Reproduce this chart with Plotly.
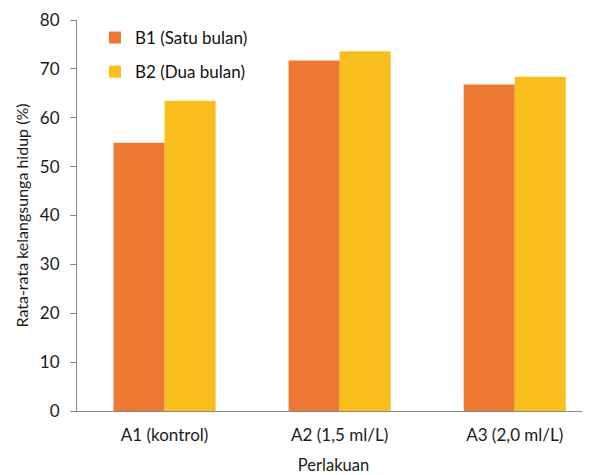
import plotly.graph_objects as go

categories = ["A1 (kontrol)", "A2 (1,5 ml/L)", "A3 (2,0 ml/L)"]
b1_values = [54.9, 71.7, 66.8]
b2_values = [63.5, 73.6, 68.4]
series_names = ["B1 (Satu bulan)", "B2 (Dua bulan)"]
y_ticks = [0, 10, 20, 30, 40, 50, 60, 70, 80]

FONT = "Lato"

fig = go.Figure()
fig.add_trace(go.Bar(x=categories, y=b1_values, name=series_names[0],
                     marker=dict(color="#EC7833", line=dict(width=0)),
                     legendgroup="b1"))
fig.add_trace(go.Bar(x=categories, y=b2_values, name=series_names[1],
                     marker=dict(color="#F7BE1C", line=dict(width=0)),
                     legendgroup="b2"))

fig.update_layout(
    width=582, height=467,
    margin=dict(l=69, r=0, t=12, b=64, autoexpand=False),
    plot_bgcolor="white", paper_bgcolor="white",
    barmode="group", bargap=0.417, bargroupgap=0,
    font=dict(family=FONT, size=16, color="#1a1a1a"),
    legend=dict(x=0.035, y=1.0, xanchor="left", yanchor="top",
                font=dict(size=17, color="#111111"),
                itemwidth=30,
                traceorder="grouped", tracegroupgap=9,
                bgcolor="rgba(0,0,0,0)"),
    xaxis=dict(range=[-0.5, 2.43], showline=True, linecolor="#888888",
               linewidth=1, ticks="", showgrid=False, automargin=False,
               tickfont=dict(size=17), ticklabelstandoff=9,
               title=dict(text="Perlakuan", font=dict(size=16.5), standoff=16)),
    yaxis=dict(range=[0, 80], tickvals=y_ticks, showline=True,
               linecolor="#888888", linewidth=1, ticks="outside",
               ticklen=6, tickcolor="#888888", showgrid=False, automargin=False,
               tickfont=dict(size=17), ticklabelstandoff=7,
               title=dict(text="Rata-rata kelangsunga hidup (%)",
                          font=dict(size=16), standoff=7)),
)

fig.write_html("out.html")
